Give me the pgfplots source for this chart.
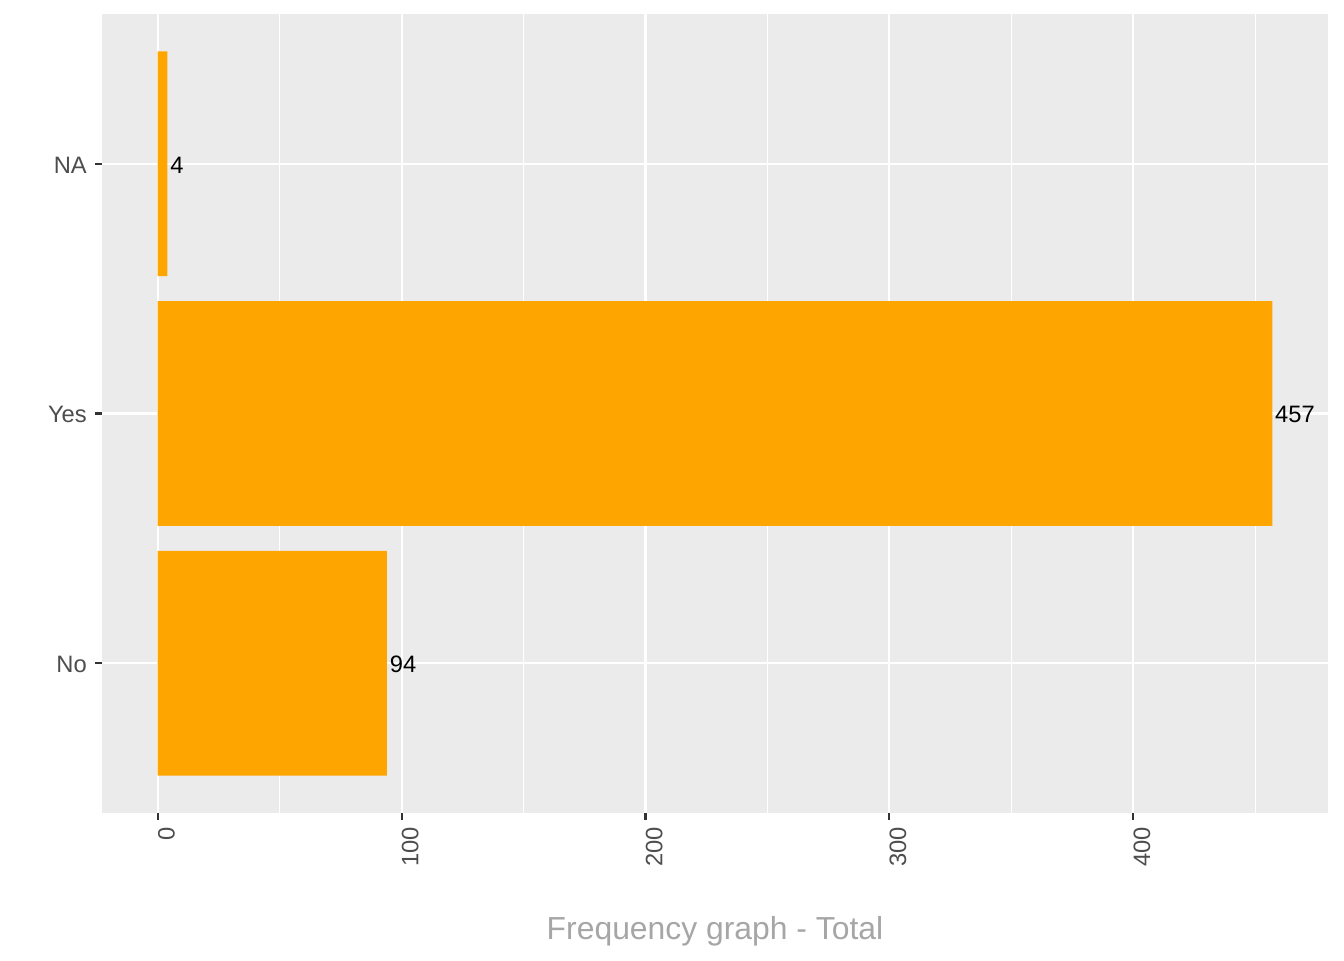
\documentclass[border=0pt]{standalone}
\usepackage{fontspec}
\setmainfont{Liberation Sans}
\usepackage{pgfplots}
\pgfplotsset{compat=1.18}
\definecolor{panel}{HTML}{EBEBEB}
\definecolor{barc}{HTML}{FFA500}
\definecolor{tickc}{HTML}{4D4D4D}
\definecolor{tickm}{HTML}{333333}
\definecolor{titlec}{HTML}{A6A6A6}
\begin{document}
\begin{tikzpicture}
\path[use as bounding box] (-76.5pt,-110.25pt) rectangle (931.5pt,609.75pt);
\begin{axis}[at={(0pt,0pt)}, anchor=south west, scale only axis,
  width=919.5pt, height=599.25pt,
  xbar, bar width=0.9,
  xmin=-22.85, xmax=479.85, ymin=0.4, ymax=3.6,
  ytick={1,2,3}, yticklabels={No,Yes,NA},
  xtick={0,100,200,300,400}, minor xtick={50,150,250,350,450},
  grid=both,
  major grid style={white, line width=1.6pt},
  minor grid style={white, line width=0.8pt},
  axis background/.style={fill=panel},
  axis line style={draw=none},
  tick align=outside, tick pos=left,
  major tick length=5.25pt, minor tick length=0pt,
  major tick style={tickm, line width=1.6pt},
  /pgf/number format/assume math mode=true,
  ticklabel style={font=\fontsize{17.8}{21}\selectfont, text=tickc},
  xticklabel style={yshift=-5pt, rotate=90, anchor=north east, inner sep=0pt},
  yticklabel style={anchor=east, inner sep=0pt, xshift=-6pt, yshift=-1pt},
  xlabel={Frequency graph - Total},
  xlabel style={at={(axis description cs:0.5,0)}, anchor=base, yshift=-95pt,
    font=\fontsize{23.9}{28}\selectfont, text=titlec},
  point meta=x,
  nodes near coords,
  nodes near coords style={anchor=west, inner sep=0pt, xshift=2pt, yshift=-1pt,
    font=\fontsize{17.8}{21}\selectfont, text=black},
]
\addplot[fill=barc, draw=none] coordinates {(94,1) (457,2) (4,3)};
\end{axis}
\end{tikzpicture}
\end{document}
